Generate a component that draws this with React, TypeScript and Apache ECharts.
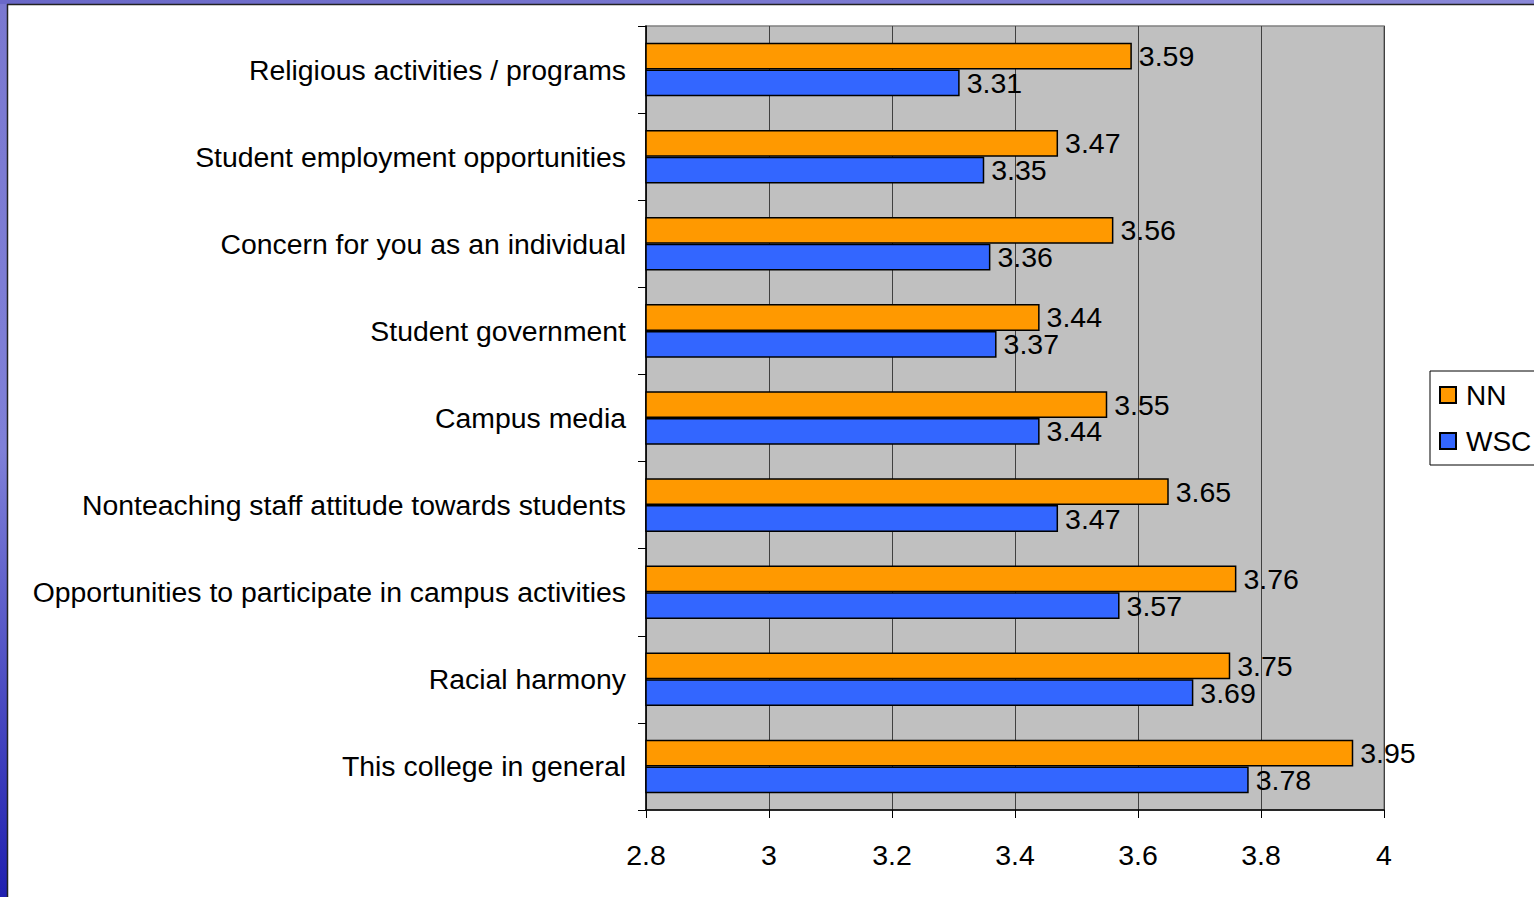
import React, { useEffect, useRef } from "react";
import * as echarts from "echarts";

const categories = [
  "Religious activities / programs",
  "Student employment opportunities",
  "Concern for you as an individual",
  "Student government",
  "Campus media",
  "Nonteaching staff attitude towards students",
  "Opportunities to participate in campus activities",
  "Racial harmony",
  "This college in general",
];
const nnValues = [3.59, 3.47, 3.56, 3.44, 3.55, 3.65, 3.76, 3.75, 3.95];
const wscValues = [3.31, 3.35, 3.36, 3.37, 3.44, 3.47, 3.57, 3.69, 3.78];
const seriesNames = ["NN", "WSC"];

const FONT = "'Liberation Sans', Arial, sans-serif";

export default function App() {
  const ref = useRef<HTMLDivElement>(null);
  useEffect(() => {
    if (!ref.current) return;
    const chart = echarts.init(ref.current, undefined, { renderer: "svg" });
    const labelStyle = {
      show: true,
      position: "right",
      distance: 7,
      color: "#000",
      fontSize: 28.5,
      fontFamily: FONT,
      formatter: (p: any) => String(p.value),
    };
    chart.setOption({
      animation: false,
      backgroundColor: "#fff",
      textStyle: { fontFamily: FONT },
      graphic: [
        {
          type: "rect",
          shape: { x: 0, y: 0, width: 7, height: 897 },
          style: {
            fill: new echarts.graphic.LinearGradient(0, 0, 0, 1, [
              { offset: 0, color: "#7a78d0" },
              { offset: 0.5, color: "#7f80d8" },
              { offset: 1, color: "#2020b0" },
            ]),
          },
          z: 100,
        },
        {
          type: "rect",
          shape: { x: 0, y: 0, width: 1534, height: 4 },
          style: {
            fill: new echarts.graphic.LinearGradient(0, 0, 1, 0, [
              { offset: 0, color: "#6a68c8" },
              { offset: 1, color: "#8a88d8" },
            ]),
          },
          z: 100,
        },
        {
          type: "line",
          shape: { x1: 7.5, y1: 4, x2: 7.5, y2: 897 },
          style: { stroke: "#222", lineWidth: 1.5 },
          z: 100,
        },
        {
          type: "line",
          shape: { x1: 7, y1: 4.5, x2: 1534, y2: 4.5 },
          style: { stroke: "#222", lineWidth: 1.5 },
          z: 100,
        },
      ],
      legend: {
        orient: "vertical",
        left: 1430,
        top: 371,
        data: seriesNames,
        backgroundColor: "#fff",
        borderColor: "#000",
        borderWidth: 1,
        borderRadius: 0,
        padding: [10, 30, 10, 9],
        itemWidth: 16,
        itemHeight: 16,
        itemGap: 18,
        icon: "rect",
        textStyle: { fontSize: 28, color: "#000", fontFamily: FONT, padding: [0, 0, 0, 5] },
      },
      grid: {
        left: 646,
        right: 150,
        top: 26,
        bottom: 87,
        show: true,
        backgroundColor: "#c0c0c0",
        borderColor: "#808080",
        borderWidth: 1.5,
        containLabel: false,
      },
      xAxis: {
        type: "value",
        min: 2.8,
        max: 4,
        interval: 0.2,
        axisLine: { show: true, lineStyle: { color: "#000", width: 1.5 } },
        axisTick: { show: true, length: 8, lineStyle: { color: "#000", width: 1 } },
        splitLine: { show: true, lineStyle: { color: "#404040", width: 1 } },
        axisLabel: {
          color: "#000",
          fontSize: 28.5,
          fontFamily: FONT,
          margin: 30,
          formatter: (v: number) => String(Math.round(v * 10) / 10),
        },
      },
      yAxis: {
        type: "category",
        data: categories,
        inverse: true,
        axisLine: { show: true, lineStyle: { color: "#000", width: 1.5 } },
        axisTick: { show: true, length: 8, lineStyle: { color: "#000", width: 1 } },
        axisLabel: {
          color: "#000",
          fontSize: 28.4,
          fontFamily: FONT,
          margin: 20,
        },
      },
      series: [
        {
          name: seriesNames[0],
          type: "bar",
          data: nnValues,
          barGap: "0%",
          barCategoryGap: "38.5%",
          itemStyle: { color: "#ff9900", borderColor: "#000", borderWidth: 1.5 },
          label: labelStyle,
        },
        {
          name: seriesNames[1],
          type: "bar",
          data: wscValues,
          barGap: "0%",
          barCategoryGap: "38.5%",
          itemStyle: { color: "#3366ff", borderColor: "#000", borderWidth: 1.5 },
          label: labelStyle,
        },
      ],
    });
    return () => chart.dispose();
  }, []);
  return (
    <div
      ref={ref}
      style={{ position: "fixed", left: 0, top: 0, width: 1534, height: 897 }}
    />
  );
}
